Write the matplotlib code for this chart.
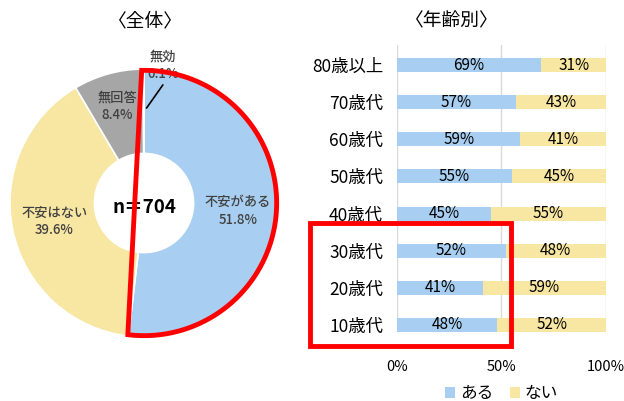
import numpy as np
import matplotlib
matplotlib.use("Agg")
from matplotlib import pyplot as plt
from matplotlib.patches import Polygon, Rectangle

plt.rcParams['font.family'] = ['Noto Sans CJK JP', 'DejaVu Sans']

# 全体
pie_labels = ["不安がある", "不安はない", "無回答", "無効"]
pie_values = [51.8, 39.6, 8.4, 0.1]
pie_colors = ["#A8CFF1", "#F8E6A3", "#A6A6A6", "#C9C9C9"]

# 年齢別
ages = ["80歳以上", "70歳代", "60歳代", "50歳代", "40歳代", "30歳代", "20歳代", "10歳代"]
aru = [69, 57, 59, 55, 45, 52, 41, 48]
nai = [31, 43, 41, 45, 55, 48, 59, 52]

W, H = 624, 401
fig = plt.figure(figsize=(W / 100, H / 100), dpi=100)

def box(x0, y0, x1, y1):
    return [x0 / W, 1 - y1 / H, (x1 - x0) / W, (y1 - y0) / H]

# ---- ドーナツ
ax1 = fig.add_axes(box(10, 69, 278, 337))
wedges, _ = ax1.pie(pie_values, colors=pie_colors, startangle=90, counterclock=False,
                    radius=1.0, wedgeprops=dict(width=0.63, edgecolor="white", linewidth=1.2))
ax1.set_xlim(-1, 1)
ax1.set_ylim(-1, 1)
ax1.set_aspect("equal")
ax1.axis("off")

txt = "#404040"
kw = dict(ha="center", va="center", fontsize=9.5, color=txt, linespacing=1.3,
          fontweight="medium")
ax1.text(0.70, -0.06, "不安がある\n51.8%", **kw)
ax1.text(-0.67, -0.14, "不安はない\n39.6%", **kw)
ax1.text(-0.20, 0.72, "無回答\n8.4%", **kw)
ax1.text(0.14, 1.03, "無効\n0.1%", clip_on=False, **kw)
ax1.plot([0.02, 0.14], [0.71, 0.88], color="black", lw=1.2)
ax1.text(0, -0.03, "n＝704", ha="center", va="center", fontsize=13.5, fontweight="bold")

# 赤枠 (pie)
ang = np.radians(np.linspace(91, -97, 120))
pts = np.column_stack([0.99 * np.cos(ang), 0.99 * np.sin(ang)])
ax1.add_patch(Polygon(pts, closed=True, fill=False, edgecolor="#FF0000", lw=3.5,
                      joinstyle="miter", clip_on=False, zorder=5))

fig.text(145 / W, 1 - 21 / H, "〈全体〉", ha="center", va="center", fontsize=13.5)
fig.text(452 / W, 1 - 21 / H, "〈年齢別〉", ha="center", va="center", fontsize=13.5)

# ---- 年齢別 帯グラフ
ax2 = fig.add_axes(box(397, 45, 606, 332))
y = np.arange(len(ages))
ax2.barh(y, aru, height=0.38, color="#A8CFF1", label="ある", zorder=2)
ax2.barh(y, nai, left=aru, height=0.38, color="#F8E6A3", label="ない", zorder=2)
for i in range(len(ages)):
    ax2.text(aru[i] / 2, i, f"{aru[i]}%", ha="center", va="center", fontsize=11)
    ax2.text(aru[i] + nai[i] / 2, i, f"{nai[i]}%", ha="center", va="center", fontsize=11)
ax2.set_xlim(0, 100)
ax2.set_ylim(7.19, -0.54)
ax2.set_yticks(y)
ax2.set_yticklabels(ages, fontsize=12.5)
ax2.set_xticks([0, 50, 100])
ax2.set_xticklabels(["0%", "50%", "100%"], fontsize=10.5)
ax2.tick_params(length=0, pad=10)
ax2.tick_params(axis="x", pad=20)
ax2.grid(axis="x", color="#D9D9D9", lw=1, zorder=0)
for s in ax2.spines.values():
    s.set_visible(False)
ax2.legend(loc="center", bbox_to_anchor=(0.5, -0.215), ncol=2, frameon=False,
           fontsize=12, handlelength=0.6, handleheight=0.6, columnspacing=1.0,
           handletextpad=0.3, borderpad=0.2)

# 赤枠 (10〜30歳代)
fig.add_artist(Rectangle((310 / W, 1 - 346 / H), 201 / W, 123 / H, fill=False,
                         edgecolor="#FF0000", lw=3.5, transform=fig.transFigure,
                         joinstyle="miter"))

fig.savefig("out.png", dpi=100, facecolor="white")
